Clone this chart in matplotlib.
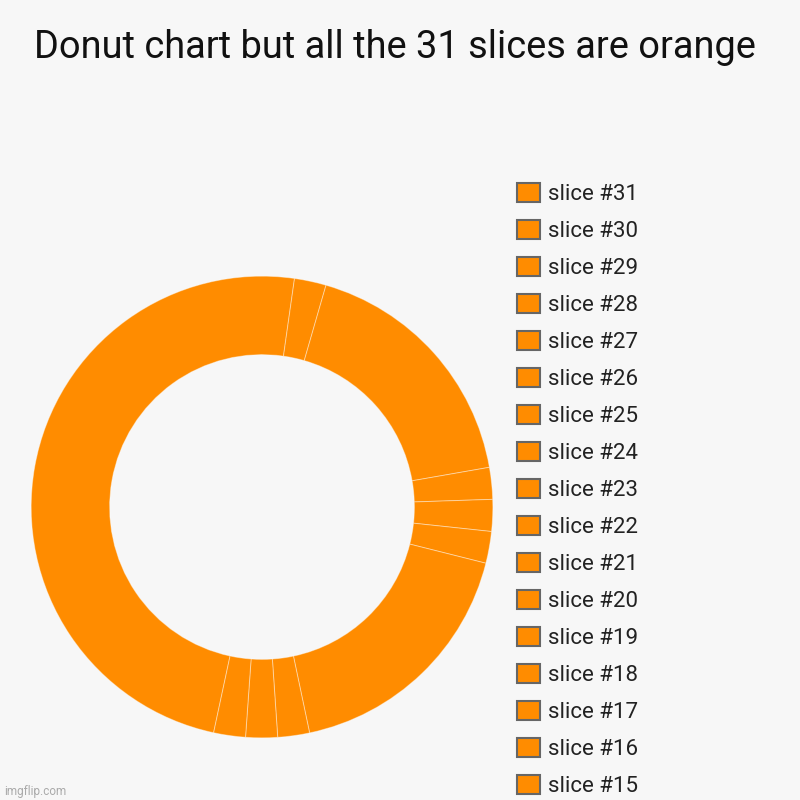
import matplotlib
import matplotlib.pyplot as plt
from matplotlib.patches import Patch

matplotlib.use('agg')

slice_labels = ['slice #{}'.format(i) for i in range(1, 32)]
slice_values = [22, 1, 8, 1, 1, 1, 8, 1, 1, 1] + [0] * 21
slice_color = '#ff8c00'
title = 'Donut chart but all the 31 slices are orange'
legend_rows_shown = 17  # the legend runs off the image after slice #15

BG = '#f7f7f7'
plt.rcParams['font.family'] = ['Roboto', 'DejaVu Sans']

fig = plt.figure(figsize=(8, 8), dpi=100, facecolor=BG)

# donut: center (262, 507) px, outer radius 232 px
cx, cy, r = 262, 507, 232
ax = fig.add_axes([(cx - r) / 800, (800 - cy - r) / 800, 2 * r / 800, 2 * r / 800])
ax.set_facecolor(BG)
# empty slices have no arc, leave them out so their borders don't pile up
drawn = [v for v in slice_values if v > 0]
ax.pie(drawn, colors=[slice_color] * len(drawn), startangle=-102.1,
       counterclock=False, radius=1,
       wedgeprops=dict(width=0.34, edgecolor=(1, 1, 1, 0.4), linewidth=0.7))
ax.set_xlim(-1.005, 1.005)
ax.set_ylim(-1.005, 1.005)
ax.set_aspect('equal')
ax.axis('off')

fig.text(395 / 800, 1 - 48 / 800, title, ha='center', va='center', fontsize=27.4, color='#111111')

# legend, reversed order
handles = [Patch(facecolor=slice_color, edgecolor='#666666', linewidth=1.5, label=lab)
           for lab in slice_labels[::-1][:legend_rows_shown]]
fig.legend(handles=handles, loc='upper left', bbox_to_anchor=(517 / 800, 1 - 183 / 800),
           frameon=False, fontsize=16, handlelength=1.05, handleheight=0.95,
           handletextpad=0.35, labelspacing=0.665, borderaxespad=0, borderpad=0,
           labelcolor='#222222')

fig.text(4 / 800, 1 - 791 / 800, 'imgflip.com', ha='left', va='center', fontsize=8.5, color='#aaaaaa')

fig.savefig('out.png', dpi=100, facecolor=BG)
plt.close()
